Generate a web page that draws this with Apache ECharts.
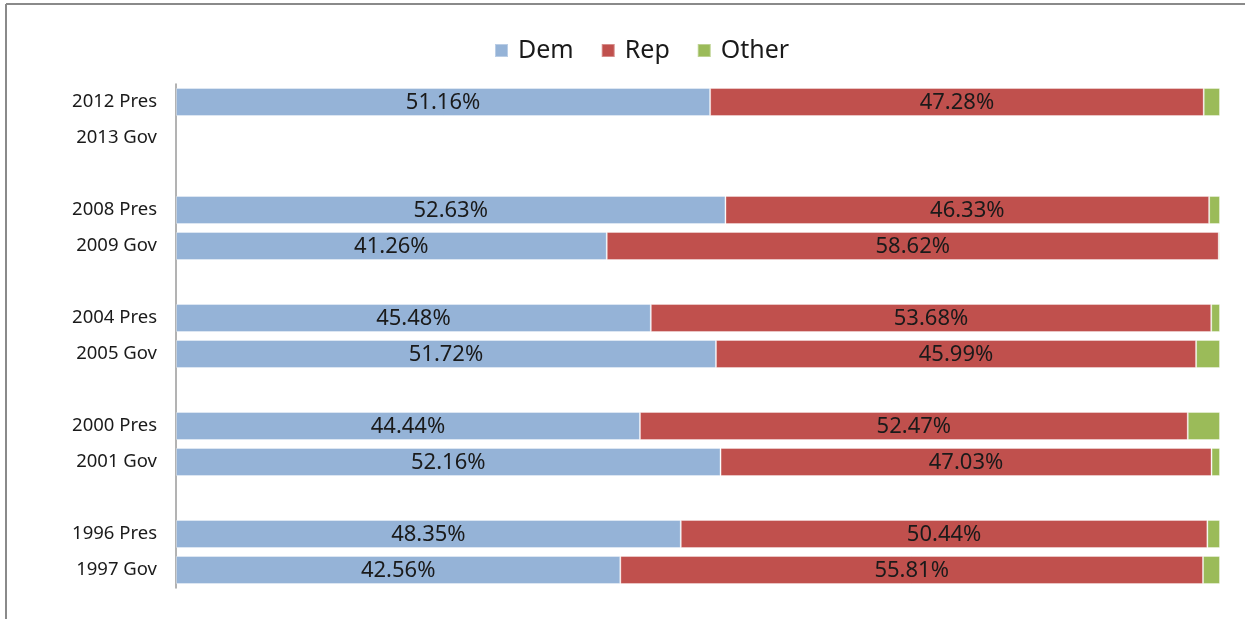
<!DOCTYPE html>
<html>
<head>
<meta charset="utf-8">
<script src="https://cdn.jsdelivr.net/npm/echarts@6/dist/echarts.min.js"></script>
<style>
  html, body { margin: 0; padding: 0; background: #fff; }
  #chart { width: 1245px; height: 619px; }
</style>
</head>
<body>
<div id="chart"></div>
<script>
const categories = ['2012 Pres', '2013 Gov', '', '2008 Pres', '2009 Gov', '', '2004 Pres', '2005 Gov', '', '2000 Pres', '2001 Gov', '', '1996 Pres', '1997 Gov'];
const demValues   = [51.16, null, null, 52.63, 41.26, null, 45.48, 51.72, null, 44.44, 52.16, null, 48.35, 42.56];
const repValues   = [47.28, null, null, 46.33, 58.62, null, 53.68, 45.99, null, 52.47, 47.03, null, 50.44, 55.81];
const otherValues = [1.56, null, null, 1.04, 0.12, null, 0.84, 2.29, null, 3.09, 0.81, null, 1.21, 1.63];

const chart = echarts.init(document.getElementById('chart'), null, { renderer: 'canvas' });
const FONT = 'Noto Sans';

function seriesDef(name, data, color, showLabel) {
  return {
    name: name,
    type: 'bar',
    stack: 'total',
    data: data,
    barWidth: 28,
    itemStyle: { color: color, borderColor: 'rgba(255,255,255,0.35)', borderWidth: 1 },
    label: {
      show: showLabel,
      position: 'inside',
      offset: [0, 1],
      color: '#1a1a1a',
      fontFamily: FONT,
      fontSize: 22,
      formatter: p => (p.value == null ? '' : p.value.toFixed(2) + '%')
    },
    emphasis: { disabled: true },
    animation: false
  };
}

chart.setOption({
  animation: false,
  backgroundColor: '#fff',
  legend: {
    top: 33,
    left: 489,
    itemWidth: 13,
    itemHeight: 13,
    itemGap: 27,
    icon: 'rect',
    textStyle: { fontFamily: FONT, fontSize: 25, color: '#1a1a1a', padding: [2, 0, 0, 5] },
    data: ['Dem', 'Rep', 'Other']
  },
  grid: { left: 176, right: 25, top: 84, bottom: 31, containLabel: false },
  xAxis: {
    type: 'value',
    min: 0,
    max: 100,
    show: false
  },
  yAxis: {
    type: 'category',
    inverse: true,
    data: categories,
    axisLine: { show: true, lineStyle: { color: '#9a9a9a', width: 1.5 } },
    axisTick: { show: false },
    splitLine: { show: false },
    axisLabel: { fontFamily: FONT, fontSize: 18.5, color: '#1a1a1a', margin: 19, padding: [5, 0, 0, 0] }
  },
  graphic: [
    { type: 'line', shape: { x1: 6, y1: 4, x2: 1245, y2: 4 }, style: { stroke: '#8a8a8a', lineWidth: 2 } },
    { type: 'line', shape: { x1: 6, y1: 4, x2: 6, y2: 619 }, style: { stroke: '#8a8a8a', lineWidth: 2 } }
  ],
  series: [
    seriesDef('Dem', demValues, '#95B3D7', true),
    seriesDef('Rep', repValues, '#C0504D', true),
    seriesDef('Other', otherValues, '#9BBB59', false)
  ]
});
</script>
</body>
</html>
